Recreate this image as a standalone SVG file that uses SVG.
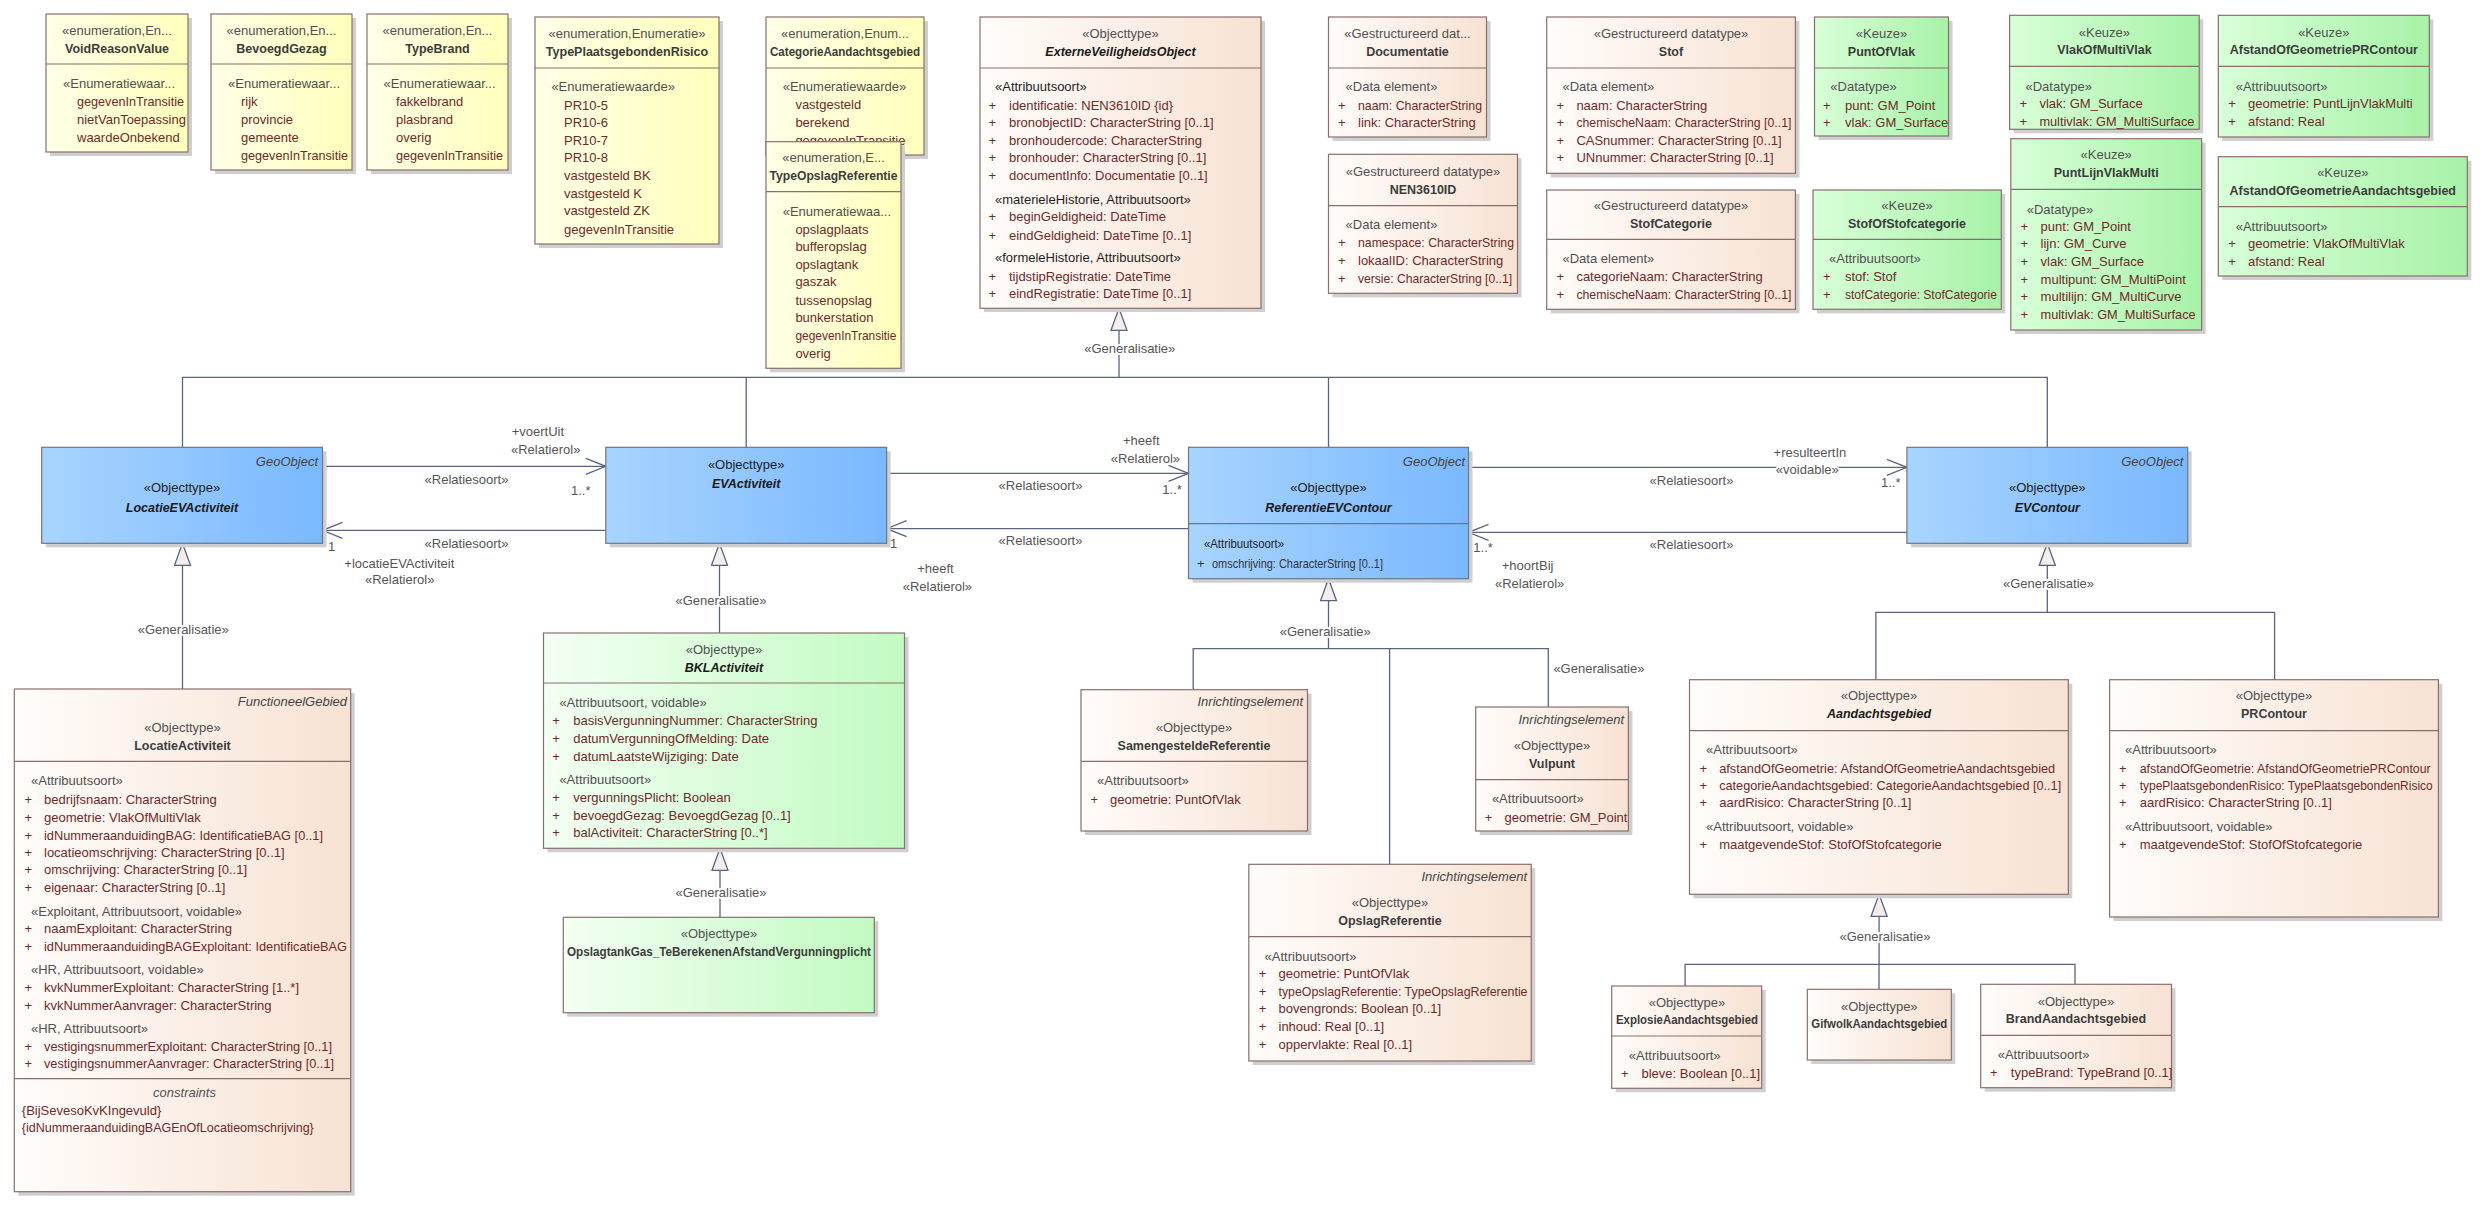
<svg xmlns="http://www.w3.org/2000/svg" width="2488" height="1208" viewBox="0 0 2488 1208">
<defs>
<linearGradient id="gy" x1="0" x2="1" y1="0" y2="0"><stop offset="0" stop-color="#FFFFE8"/><stop offset="1" stop-color="#FFFFBC"/></linearGradient>
<linearGradient id="gb" x1="0" x2="1" y1="0" y2="0"><stop offset="0" stop-color="#FFFCFA"/><stop offset="1" stop-color="#F7E2D3"/></linearGradient>
<linearGradient id="gg" x1="0" x2="1" y1="0" y2="0"><stop offset="0" stop-color="#D8FFD8"/><stop offset="1" stop-color="#A8F2A8"/></linearGradient>
<linearGradient id="gl" x1="0" x2="1" y1="0" y2="0"><stop offset="0" stop-color="#F3FFF3"/><stop offset="1" stop-color="#C2FAC2"/></linearGradient>
<linearGradient id="gbl" x1="0" x2="1" y1="0" y2="0"><stop offset="0" stop-color="#A8D4FF"/><stop offset="1" stop-color="#7AB8FF"/></linearGradient>
<marker id="arr" viewBox="0 0 22 18" refX="21" refY="9" markerWidth="22" markerHeight="18" markerUnits="userSpaceOnUse" orient="auto"><path d="M1,1 L21,9 L1,17" fill="none" stroke="#5a6383" stroke-width="1.3"/></marker>
<marker id="tri" viewBox="0 0 24 18" refX="23" refY="9" markerWidth="24" markerHeight="18" markerUnits="userSpaceOnUse" orient="auto"><path d="M1,1 L23,9 L1,17 Z" fill="#f4edeb" stroke="#5a6383" stroke-width="1.3"/></marker>
</defs>
<style>
text{font-family:"Liberation Sans",Arial,sans-serif;font-size:13px}
.sh{fill:#cfcfcf}
.bx{stroke:#8a6e6e;stroke-width:1.2}
.y{fill:url(#gy)}.b{fill:url(#gb)}.g{fill:url(#gg)}.gl{fill:url(#gl)}.bl{fill:url(#gbl);stroke:#6f7680}
.dv{stroke:#8a6e6e;stroke-width:1.2}
.s{fill:#505050}
.k{fill:#1e1e1e}
.n{font-weight:bold;font-size:12.5px;fill:#3c3c3c}
.ni{font-weight:bold;font-style:italic;font-size:12.5px;fill:#1a1a1a}
.a{fill:#6e2a2a}
.m{text-anchor:middle}
.e{text-anchor:end;font-style:italic;fill:#444}
.cn{fill:none;stroke:#5a6383;stroke-width:1.3}
.l{fill:#555;paint-order:stroke;stroke:#fff;stroke-width:4px;stroke-linejoin:round}
.lm{text-anchor:middle}
</style>
<rect width="2488" height="1208" fill="#fff"/>

<g id="connectors">
<polyline class="cn" points="182.5,447.3 182.5,377.3 2047.3,377.3 2047.3,447.3"/>
<line class="cn" x1="746.2" y1="377.3" x2="746.2" y2="447.3"/>
<line class="cn" x1="1328.5" y1="377.3" x2="1328.5" y2="447.3"/>
<path class="cn" d="M1119,377.3 V308.3" marker-end="url(#tri)"/>
<text class="l lm" x="1129.8" y="352.5">«Generalisatie»</text>

<path class="cn" d="M182.5,689 V543.3" marker-end="url(#tri)"/>
<text class="l lm" x="183.3" y="634">«Generalisatie»</text>
<path class="cn" d="M719.5,633 V543.3" marker-end="url(#tri)"/>
<text class="l lm" x="721" y="605">«Generalisatie»</text>
<path class="cn" d="M720,917.3 V848.3" marker-end="url(#tri)"/>
<text class="l lm" x="721" y="897">«Generalisatie»</text>

<polyline class="cn" points="1193.2,689.7 1193.2,648.7 1548.3,648.7 1548.3,707"/>
<line class="cn" x1="1389.6" y1="648.7" x2="1389.6" y2="864.3"/>
<path class="cn" d="M1328.5,648.7 V578.7" marker-end="url(#tri)"/>
<text class="l lm" x="1325.3" y="636">«Generalisatie»</text>
<text class="l" x="1553.4" y="673">«Generalisatie»</text>

<polyline class="cn" points="1875.9,679.7 1875.9,612.3 2274.6,612.3 2274.6,679.7"/>
<path class="cn" d="M2047.3,612.3 V543.3" marker-end="url(#tri)"/>
<text class="l lm" x="2048.5" y="587.5">«Generalisatie»</text>

<polyline class="cn" points="1685.1,986 1685.1,964.3 2075,964.3 2075,984.3"/>
<line class="cn" x1="1879" y1="964.3" x2="1879" y2="989.3"/>
<path class="cn" d="M1879.1,964.3 V894.3" marker-end="url(#tri)"/>
<text class="l lm" x="1885" y="941">«Generalisatie»</text>

<path class="cn" d="M322.5,466.3 H605.8" marker-end="url(#arr)"/>
<text class="l" x="511.7" y="436">+voertUit</text>
<text class="l" x="511" y="453.5">«Relatierol»</text>
<text class="l lm" x="466.5" y="483.5">«Relatiesoort»</text>
<text class="l" x="571" y="495">1..*</text>
<path class="cn" d="M605.8,530.3 H322.5" marker-end="url(#arr)"/>
<text class="l" x="328" y="551">1</text>
<text class="l lm" x="466.5" y="547.5">«Relatiesoort»</text>
<text class="l" x="344.3" y="567.5">+locatieEVActiviteit</text>
<text class="l" x="365" y="584">«Relatierol»</text>

<path class="cn" d="M886.6,473.3 H1188.5" marker-end="url(#arr)"/>
<text class="l" x="1123" y="445">+heeft</text>
<text class="l" x="1110.7" y="463">«Relatierol»</text>
<text class="l lm" x="1040.5" y="490">«Relatiesoort»</text>
<text class="l" x="1162.3" y="493.5">1..*</text>
<path class="cn" d="M1188.5,528.7 H886.6" marker-end="url(#arr)"/>
<text class="l" x="890" y="547.5">1</text>
<text class="l lm" x="1040.5" y="544.5">«Relatiesoort»</text>
<text class="l lm" x="935.4" y="573">+heeft</text>
<text class="l lm" x="937.4" y="591">«Relatierol»</text>

<path class="cn" d="M1468.5,467.3 H1906.9" marker-end="url(#arr)"/>
<text class="l" x="1773.6" y="456.5">+resulteertIn</text>
<text class="l lm" x="1807.3" y="474">«voidable»</text>
<text class="l lm" x="1691.5" y="485">«Relatiesoort»</text>
<text class="l" x="1881" y="486.5">1..*</text>
<path class="cn" d="M1906.9,532.3 H1468.5" marker-end="url(#arr)"/>
<text class="l" x="1473.3" y="551.5">1..*</text>
<text class="l lm" x="1691.5" y="549">«Relatiesoort»</text>
<text class="l lm" x="1527.6" y="569.5">+hoortBij</text>
<text class="l lm" x="1529.6" y="587.5">«Relatierol»</text>
</g>

<g id="VoidReasonValue">
<rect class="sh" x="50" y="18" width="142" height="138"/>
<rect class="bx y" x="46" y="14" width="142" height="138"/>
<line class="dv" x1="46" y1="64" x2="188" y2="64"/>
<text class="s m" x="117" y="35">«enumeration,En...</text>
<text class="n m" x="117" y="53">VoidReasonValue</text>
<text class="s" x="63" y="88">«Enumeratiewaar...</text>
<text class="a" x="77" y="106" textLength="107" lengthAdjust="spacingAndGlyphs">gegevenInTransitie</text>
<text class="a" x="77" y="124">nietVanToepassing</text>
<text class="a" x="77" y="142">waardeOnbekend</text>
</g>

<g id="BevoegdGezag">
<rect class="sh" x="215" y="18" width="141" height="156"/>
<rect class="bx y" x="211" y="14" width="141" height="156"/>
<line class="dv" x1="211" y1="64" x2="352" y2="64"/>
<text class="s m" x="281.5" y="35">«enumeration,En...</text>
<text class="n m" x="281.5" y="53">BevoegdGezag</text>
<text class="s" x="228" y="88">«Enumeratiewaar...</text>
<text class="a" x="241" y="106">rijk</text>
<text class="a" x="241" y="124">provincie</text>
<text class="a" x="241" y="142">gemeente</text>
<text class="a" x="241" y="160" textLength="107" lengthAdjust="spacingAndGlyphs">gegevenInTransitie</text>
</g>

<g id="TypeBrand">
<rect class="sh" x="371" y="18" width="141" height="156"/>
<rect class="bx y" x="367" y="14" width="141" height="156"/>
<line class="dv" x1="367" y1="64" x2="508" y2="64"/>
<text class="s m" x="437.5" y="35">«enumeration,En...</text>
<text class="n m" x="437.5" y="53">TypeBrand</text>
<text class="s" x="383.6" y="88">«Enumeratiewaar...</text>
<text class="a" x="396" y="106">fakkelbrand</text>
<text class="a" x="396" y="124">plasbrand</text>
<text class="a" x="396" y="142">overig</text>
<text class="a" x="396" y="160" textLength="107" lengthAdjust="spacingAndGlyphs">gegevenInTransitie</text>
</g>

<g id="TypePlaatsgebondenRisico">
<rect class="sh" x="539" y="21" width="184" height="227"/>
<rect class="bx y" x="535" y="17" width="184" height="227"/>
<line class="dv" x1="535" y1="68" x2="719" y2="68"/>
<text class="s m" x="627" y="38">«enumeration,Enumeratie»</text>
<text class="n m" x="627" y="56">TypePlaatsgebondenRisico</text>
<text class="s" x="551.4" y="91">«Enumeratiewaarde»</text>
<text class="a" x="564" y="109.5">PR10-5</text>
<text class="a" x="564" y="127">PR10-6</text>
<text class="a" x="564" y="144.5">PR10-7</text>
<text class="a" x="564" y="162">PR10-8</text>
<text class="a" x="564" y="180">vastgesteld BK</text>
<text class="a" x="564" y="197.8">vastgesteld K</text>
<text class="a" x="564" y="215.3">vastgesteld ZK</text>
<text class="a" x="564" y="233.5">gegevenInTransitie</text>
</g>

<g id="CategorieAandachtsgebied">
<rect class="sh" x="770" y="21" width="158" height="138"/>
<rect class="bx y" x="766" y="17" width="158" height="138"/>
<line class="dv" x1="766" y1="68" x2="924" y2="68"/>
<text class="s m" x="845" y="38">«enumeration,Enum...</text>
<text class="n m" x="845" y="56" textLength="150" lengthAdjust="spacingAndGlyphs">CategorieAandachtsgebied</text>
<text class="s" x="782.7" y="91">«Enumeratiewaarde»</text>
<text class="a" x="795.4" y="108.8">vastgesteld</text>
<text class="a" x="795.4" y="126.5">berekend</text>
<text class="a" x="795.4" y="144.5">gegevenInTransitie</text>
</g>

<g id="TypeOpslagReferentie">
<rect class="sh" x="770" y="145.7" width="135" height="226.6"/>
<rect class="bx y" x="766" y="141.7" width="135" height="226.6"/>
<line class="dv" x1="766" y1="191.7" x2="901" y2="191.7"/>
<text class="s m" x="833.5" y="162">«enumeration,E...</text>
<text class="n m" x="833.5" y="180" textLength="128" lengthAdjust="spacingAndGlyphs">TypeOpslagReferentie</text>
<text class="s" x="782.7" y="215.5">«Enumeratiewaa...</text>
<text class="a" x="795.4" y="233.5">opslagplaats</text>
<text class="a" x="795.4" y="251">bufferopslag</text>
<text class="a" x="795.4" y="268.8">opslagtank</text>
<text class="a" x="795.4" y="286">gaszak</text>
<text class="a" x="795.4" y="304.5">tussenopslag</text>
<text class="a" x="795.4" y="322">bunkerstation</text>
<text class="a" x="795.4" y="340" textLength="101" lengthAdjust="spacingAndGlyphs">gegevenInTransitie</text>
<text class="a" x="795.4" y="357.8">overig</text>
</g>

<g id="ExterneVeiligheidsObject">
<rect class="sh" x="984" y="21" width="281" height="291"/>
<rect class="bx b" x="980" y="17" width="281" height="291.3"/>
<line class="dv" x1="980" y1="68" x2="1261" y2="68"/>
<text class="s m" x="1120.5" y="38">«Objecttype»</text>
<text class="ni m" x="1120.5" y="56">ExterneVeiligheidsObject</text>
<text class="k" x="995" y="91">«Attribuutsoort»</text>
<text class="a" x="988.5" y="109.5">+</text><text class="a" x="1009" y="109.5">identificatie: NEN3610ID {id}</text>
<text class="a" x="988.5" y="127">+</text><text class="a" x="1009" y="127">bronobjectID: CharacterString [0..1]</text>
<text class="a" x="988.5" y="144.5">+</text><text class="a" x="1009" y="144.5">bronhoudercode: CharacterString</text>
<text class="a" x="988.5" y="162">+</text><text class="a" x="1009" y="162">bronhouder: CharacterString [0..1]</text>
<text class="a" x="988.5" y="180">+</text><text class="a" x="1009" y="180">documentInfo: Documentatie [0..1]</text>
<text class="k" x="995" y="203.5">«materieleHistorie, Attribuutsoort»</text>
<text class="a" x="988.5" y="221">+</text><text class="a" x="1009" y="221">beginGeldigheid: DateTime</text>
<text class="a" x="988.5" y="239.5">+</text><text class="a" x="1009" y="239.5">eindGeldigheid: DateTime [0..1]</text>
<text class="k" x="995" y="262">«formeleHistorie, Attribuutsoort»</text>
<text class="a" x="988.5" y="280.5">+</text><text class="a" x="1009" y="280.5">tijdstipRegistratie: DateTime</text>
<text class="a" x="988.5" y="297.8">+</text><text class="a" x="1009" y="297.8">eindRegistratie: DateTime [0..1]</text>
</g>

<g id="Documentatie">
<rect class="sh" x="1332.5" y="21" width="158" height="120"/>
<rect class="bx b" x="1328.5" y="17" width="158" height="120"/>
<line class="dv" x1="1328.5" y1="68" x2="1486.5" y2="68"/>
<text class="s m" x="1407.5" y="38">«Gestructureerd dat...</text>
<text class="n m" x="1407.5" y="56">Documentatie</text>
<text class="s" x="1345.6" y="91">«Data element»</text>
<text class="a" x="1338" y="109.5">+</text><text class="a" x="1358" y="109.5" textLength="124" lengthAdjust="spacingAndGlyphs">naam: CharacterString</text>
<text class="a" x="1338" y="127">+</text><text class="a" x="1358" y="127">link: CharacterString</text>
</g>

<g id="NEN3610ID">
<rect class="sh" x="1332.5" y="158.3" width="189" height="139"/>
<rect class="bx b" x="1328.5" y="154.3" width="189" height="139"/>
<line class="dv" x1="1328.5" y1="205.7" x2="1517.5" y2="205.7"/>
<text class="s m" x="1423" y="176">«Gestructureerd datatype»</text>
<text class="n m" x="1423" y="194">NEN3610ID</text>
<text class="s" x="1345.6" y="229">«Data element»</text>
<text class="a" x="1338" y="247">+</text><text class="a" x="1358" y="247" textLength="156" lengthAdjust="spacingAndGlyphs">namespace: CharacterString</text>
<text class="a" x="1338" y="265">+</text><text class="a" x="1358" y="265">lokaalID: CharacterString</text>
<text class="a" x="1338" y="282.5">+</text><text class="a" x="1358" y="282.5" textLength="154" lengthAdjust="spacingAndGlyphs">versie: CharacterString [0..1]</text>
</g>

<g id="Stof">
<rect class="sh" x="1550.7" y="21" width="248.7" height="156.6"/>
<rect class="bx b" x="1546.7" y="17" width="248.7" height="156.3"/>
<line class="dv" x1="1546.7" y1="68" x2="1795.4" y2="68"/>
<text class="s m" x="1671" y="38">«Gestructureerd datatype»</text>
<text class="n m" x="1671" y="56">Stof</text>
<text class="s" x="1562.5" y="91">«Data element»</text>
<text class="a" x="1556.6" y="109.5">+</text><text class="a" x="1576.4" y="109.5">naam: CharacterString</text>
<text class="a" x="1556.6" y="127">+</text><text class="a" x="1576.4" y="127" textLength="215" lengthAdjust="spacingAndGlyphs">chemischeNaam: CharacterString [0..1]</text>
<text class="a" x="1556.6" y="144.5">+</text><text class="a" x="1576.4" y="144.5">CASnummer: CharacterString [0..1]</text>
<text class="a" x="1556.6" y="162">+</text><text class="a" x="1576.4" y="162">UNnummer: CharacterString [0..1]</text>
</g>

<g id="StofCategorie">
<rect class="sh" x="1550.7" y="194" width="248.7" height="119.3"/>
<rect class="bx b" x="1546.7" y="190" width="248.7" height="119.3"/>
<line class="dv" x1="1546.7" y1="239.3" x2="1795.4" y2="239.3"/>
<text class="s m" x="1671" y="210">«Gestructureerd datatype»</text>
<text class="n m" x="1671" y="228">StofCategorie</text>
<text class="s" x="1562.5" y="263">«Data element»</text>
<text class="a" x="1556.6" y="281">+</text><text class="a" x="1576.4" y="281">categorieNaam: CharacterString</text>
<text class="a" x="1556.6" y="299">+</text><text class="a" x="1576.4" y="299" textLength="215" lengthAdjust="spacingAndGlyphs">chemischeNaam: CharacterString [0..1]</text>
</g>

<g id="PuntOfVlak">
<rect class="sh" x="1818.5" y="21" width="134" height="119"/>
<rect class="bx g" x="1814.5" y="17" width="134" height="119"/>
<line class="dv" x1="1814.5" y1="68" x2="1948.5" y2="68"/>
<text class="s m" x="1881.5" y="38">«Keuze»</text>
<text class="n m" x="1881.5" y="56">PuntOfVlak</text>
<text class="s" x="1830.3" y="91">«Datatype»</text>
<text class="a" x="1823" y="109.5">+</text><text class="a" x="1845" y="109.5">punt: GM_Point</text>
<text class="a" x="1823" y="127">+</text><text class="a" x="1845" y="127">vlak: GM_Surface</text>
</g>

<g id="StofOfStofcategorie">
<rect class="sh" x="1817" y="194" width="188.3" height="119.3"/>
<rect class="bx g" x="1813" y="190" width="188.3" height="119.3"/>
<line class="dv" x1="1813" y1="239.3" x2="2001.3" y2="239.3"/>
<text class="s m" x="1907" y="210">«Keuze»</text>
<text class="n m" x="1907" y="228">StofOfStofcategorie</text>
<text class="s" x="1829" y="263">«Attribuutsoort»</text>
<text class="a" x="1823" y="281">+</text><text class="a" x="1845" y="281">stof: Stof</text>
<text class="a" x="1823" y="299">+</text><text class="a" x="1845" y="299" textLength="152" lengthAdjust="spacingAndGlyphs">stofCategorie: StofCategorie</text>
</g>

<g id="VlakOfMultiVlak">
<rect class="sh" x="2013.6" y="19.3" width="189.6" height="114"/>
<rect class="bx g" x="2009.6" y="15.3" width="189.6" height="114"/>
<line class="dv" x1="2009.6" y1="66.3" x2="2199.2" y2="66.3"/>
<text class="s m" x="2104.4" y="36.5">«Keuze»</text>
<text class="n m" x="2104.4" y="54">VlakOfMultiVlak</text>
<text class="s" x="2025.5" y="90.5">«Datatype»</text>
<text class="a" x="2019.5" y="108">+</text><text class="a" x="2039.4" y="108">vlak: GM_Surface</text>
<text class="a" x="2019.5" y="125.5">+</text><text class="a" x="2039.4" y="125.5" textLength="155" lengthAdjust="spacingAndGlyphs">multivlak: GM_MultiSurface</text>
</g>

<g id="PuntLijnVlakMulti">
<rect class="sh" x="2014.8" y="142.7" width="190.8" height="191.3"/>
<rect class="bx g" x="2010.8" y="138.7" width="190.8" height="191.3"/>
<line class="dv" x1="2010.8" y1="189.3" x2="2201.6" y2="189.3"/>
<text class="s m" x="2106.2" y="159">«Keuze»</text>
<text class="n m" x="2106.2" y="177">PuntLijnVlakMulti</text>
<text class="s" x="2026.7" y="213.5">«Datatype»</text>
<text class="a" x="2020.5" y="230.5">+</text><text class="a" x="2040.6" y="230.5">punt: GM_Point</text>
<text class="a" x="2020.5" y="248">+</text><text class="a" x="2040.6" y="248">lijn: GM_Curve</text>
<text class="a" x="2020.5" y="266">+</text><text class="a" x="2040.6" y="266">vlak: GM_Surface</text>
<text class="a" x="2020.5" y="283.8">+</text><text class="a" x="2040.6" y="283.8">multipunt: GM_MultiPoint</text>
<text class="a" x="2020.5" y="301">+</text><text class="a" x="2040.6" y="301">multilijn: GM_MultiCurve</text>
<text class="a" x="2020.5" y="318.8">+</text><text class="a" x="2040.6" y="318.8" textLength="155" lengthAdjust="spacingAndGlyphs">multivlak: GM_MultiSurface</text>
</g>

<g id="AfstandOfGeometriePRContour">
<rect class="sh" x="2222.3" y="19.3" width="211" height="121.7"/>
<rect class="bx g" x="2218.3" y="15.3" width="211" height="121.7"/>
<line class="dv" x1="2218.3" y1="66.3" x2="2429.3" y2="66.3"/>
<text class="s m" x="2323.8" y="36.5">«Keuze»</text>
<text class="n m" x="2323.8" y="54">AfstandOfGeometriePRContour</text>
<text class="s" x="2235.7" y="90.5">«Attribuutsoort»</text>
<text class="a" x="2228.2" y="108">+</text><text class="a" x="2248" y="108">geometrie: PuntLijnVlakMulti</text>
<text class="a" x="2228.2" y="125.5">+</text><text class="a" x="2248" y="125.5">afstand: Real</text>
</g>

<g id="AfstandOfGeometrieAandachtsgebied">
<rect class="sh" x="2222.3" y="160.7" width="249" height="119.3"/>
<rect class="bx g" x="2218.3" y="156.7" width="249" height="119.3"/>
<line class="dv" x1="2218.3" y1="206.7" x2="2467.3" y2="206.7"/>
<text class="s m" x="2342.8" y="177">«Keuze»</text>
<text class="n m" x="2342.8" y="195">AfstandOfGeometrieAandachtsgebied</text>
<text class="s" x="2235.7" y="230.5">«Attribuutsoort»</text>
<text class="a" x="2228.2" y="248">+</text><text class="a" x="2248" y="248">geometrie: VlakOfMultiVlak</text>
<text class="a" x="2228.2" y="266">+</text><text class="a" x="2248" y="266">afstand: Real</text>
</g>

<g id="LocatieEVActiviteit">
<rect class="sh" x="45.7" y="451.3" width="280.8" height="96"/>
<rect class="bx bl" x="41.7" y="447.3" width="280.8" height="96"/>
<text class="e" x="318" y="465.5" fill="#222">GeoObject</text>
<text class="k m" x="182" y="492">«Objecttype»</text>
<text class="ni m" x="182" y="512">LocatieEVActiviteit</text>
</g>

<g id="EVActiviteit">
<rect class="sh" x="609.8" y="451.3" width="280.8" height="96"/>
<rect class="bx bl" x="605.8" y="447.3" width="280.8" height="96"/>
<text class="k m" x="746.2" y="469">«Objecttype»</text>
<text class="ni m" x="746.2" y="487.5">EVActiviteit</text>
</g>

<g id="ReferentieEVContour">
<rect class="sh" x="1192.5" y="451.3" width="280" height="131.4"/>
<rect class="bx bl" x="1188.5" y="447.3" width="280" height="131.4"/>
<line x1="1188.5" y1="523.7" x2="1468.5" y2="523.7" stroke="#6f7680" stroke-width="1.2"/>
<text class="e" x="1465" y="465.5">GeoObject</text>
<text class="k m" x="1328.5" y="492">«Objecttype»</text>
<text class="ni m" x="1328.5" y="512">ReferentieEVContour</text>
<text class="k" x="1204" y="548" textLength="80" lengthAdjust="spacingAndGlyphs">«Attribuutsoort»</text>
<text fill="#333" x="1197" y="568">+</text><text fill="#333" x="1212" y="568" textLength="171" lengthAdjust="spacingAndGlyphs">omschrijving: CharacterString [0..1]</text>
</g>

<g id="EVContour">
<rect class="sh" x="1910.9" y="451.3" width="280.8" height="96"/>
<rect class="bx bl" x="1906.9" y="447.3" width="280.8" height="96"/>
<text class="e" x="2183.4" y="465.5">GeoObject</text>
<text class="k m" x="2047.3" y="492">«Objecttype»</text>
<text class="ni m" x="2047.3" y="512">EVContour</text>
</g>

<g id="LocatieActiviteit">
<rect class="sh" x="18.3" y="693" width="336.4" height="502.7"/>
<rect class="bx b" x="14.3" y="689" width="336.4" height="502.7"/>
<line class="dv" x1="14.3" y1="761.3" x2="350.7" y2="761.3"/>
<line class="dv" x1="14.3" y1="1078.7" x2="350.7" y2="1078.7"/>
<text class="e" x="347" y="706">FunctioneelGebied</text>
<text class="s m" x="182.5" y="732">«Objecttype»</text>
<text class="n m" x="182.5" y="750">LocatieActiviteit</text>
<text class="s" x="31" y="785">«Attribuutsoort»</text>
<text class="a" x="24.6" y="803.5">+</text><text class="a" x="44" y="803.5">bedrijfsnaam: CharacterString</text>
<text class="a" x="24.6" y="821.5">+</text><text class="a" x="44" y="821.5">geometrie: VlakOfMultiVlak</text>
<text class="a" x="24.6" y="839.5">+</text><text class="a" x="44" y="839.5" textLength="279" lengthAdjust="spacingAndGlyphs">idNummeraanduidingBAG: IdentificatieBAG [0..1]</text>
<text class="a" x="24.6" y="856.5">+</text><text class="a" x="44" y="856.5">locatieomschrijving: CharacterString [0..1]</text>
<text class="a" x="24.6" y="874">+</text><text class="a" x="44" y="874">omschrijving: CharacterString [0..1]</text>
<text class="a" x="24.6" y="892">+</text><text class="a" x="44" y="892">eigenaar: CharacterString [0..1]</text>
<text class="s" x="31" y="915.5">«Exploitant, Attribuutsoort, voidable»</text>
<text class="a" x="24.6" y="933">+</text><text class="a" x="44" y="933">naamExploitant: CharacterString</text>
<text class="a" x="24.6" y="951">+</text><text class="a" x="44" y="951" textLength="303" lengthAdjust="spacingAndGlyphs">idNummeraanduidingBAGExploitant: IdentificatieBAG</text>
<text class="s" x="31" y="974">«HR, Attribuutsoort, voidable»</text>
<text class="a" x="24.6" y="992">+</text><text class="a" x="44" y="992">kvkNummerExploitant: CharacterString [1..*]</text>
<text class="a" x="24.6" y="1009.5">+</text><text class="a" x="44" y="1009.5">kvkNummerAanvrager: CharacterString</text>
<text class="s" x="31" y="1033">«HR, Attribuutsoort»</text>
<text class="a" x="24.6" y="1050.5">+</text><text class="a" x="44" y="1050.5" textLength="288" lengthAdjust="spacingAndGlyphs">vestigingsnummerExploitant: CharacterString [0..1]</text>
<text class="a" x="24.6" y="1068">+</text><text class="a" x="44" y="1068" textLength="290" lengthAdjust="spacingAndGlyphs">vestigingsnummerAanvrager: CharacterString [0..1]</text>
<text class="s m" x="184.5" y="1097" font-style="italic">constraints</text>
<text class="a" x="21.8" y="1114.5">{BijSevesoKvKIngevuld}</text>
<text class="a" x="21.8" y="1132" textLength="292" lengthAdjust="spacingAndGlyphs">{idNummeraanduidingBAGEnOfLocatieomschrijving}</text>
</g>

<g id="BKLActiviteit">
<rect class="sh" x="547.5" y="637" width="361" height="215.3"/>
<rect class="bx gl" x="543.5" y="633" width="361" height="215.3"/>
<line class="dv" x1="543.5" y1="683" x2="904.5" y2="683"/>
<text class="s m" x="724" y="654">«Objecttype»</text>
<text class="ni m" x="724" y="672">BKLActiviteit</text>
<text class="s" x="559.4" y="706.5">«Attribuutsoort, voidable»</text>
<text class="a" x="552.2" y="724.5">+</text><text class="a" x="573.2" y="724.5">basisVergunningNummer: CharacterString</text>
<text class="a" x="552.2" y="743">+</text><text class="a" x="573.2" y="743">datumVergunningOfMelding: Date</text>
<text class="a" x="552.2" y="760.5">+</text><text class="a" x="573.2" y="760.5">datumLaatsteWijziging: Date</text>
<text class="s" x="559.4" y="784">«Attribuutsoort»</text>
<text class="a" x="552.2" y="802">+</text><text class="a" x="573.2" y="802">vergunningsPlicht: Boolean</text>
<text class="a" x="552.2" y="819.5">+</text><text class="a" x="573.2" y="819.5">bevoegdGezag: BevoegdGezag [0..1]</text>
<text class="a" x="552.2" y="837">+</text><text class="a" x="573.2" y="837">balActiviteit: CharacterString [0..*]</text>
</g>

<g id="OpslagtankGas_TeBerekenenAfstandVergunningplicht">
<rect class="sh" x="567.3" y="921.3" width="311" height="95.4"/>
<rect class="bx gl" x="563.3" y="917.3" width="311" height="95.4"/>
<text class="s m" x="719" y="938">«Objecttype»</text>
<text class="n m" x="719" y="956" textLength="304" lengthAdjust="spacingAndGlyphs">OpslagtankGas_TeBerekenenAfstandVergunningplicht</text>
</g>

<g id="SamengesteldeReferentie">
<rect class="sh" x="1085" y="693.7" width="226.5" height="141.3"/>
<rect class="bx b" x="1081" y="689.7" width="226.5" height="141.3"/>
<line class="dv" x1="1081" y1="761.3" x2="1307.5" y2="761.3"/>
<text class="e" x="1303" y="706">Inrichtingselement</text>
<text class="s m" x="1194" y="731.5">«Objecttype»</text>
<text class="n m" x="1194" y="750">SamengesteldeReferentie</text>
<text class="s" x="1097" y="785">«Attribuutsoort»</text>
<text class="a" x="1090.5" y="803.5">+</text><text class="a" x="1110" y="803.5">geometrie: PuntOfVlak</text>
</g>

<g id="Vulpunt">
<rect class="sh" x="1479.7" y="711" width="152.7" height="124"/>
<rect class="bx b" x="1475.7" y="707" width="152.7" height="124"/>
<line class="dv" x1="1475.7" y1="779.7" x2="1628.4" y2="779.7"/>
<text class="e" x="1624" y="724">Inrichtingselement</text>
<text class="s m" x="1552" y="749.5">«Objecttype»</text>
<text class="n m" x="1552" y="767.5">Vulpunt</text>
<text class="s" x="1491.9" y="803">«Attribuutsoort»</text>
<text class="a" x="1484.8" y="821.5">+</text><text class="a" x="1504.6" y="821.5">geometrie: GM_Point</text>
</g>

<g id="OpslagReferentie">
<rect class="sh" x="1252.8" y="868.3" width="282.4" height="196.7"/>
<rect class="bx b" x="1248.8" y="864.3" width="282.4" height="196.7"/>
<line class="dv" x1="1248.8" y1="936.7" x2="1531.2" y2="936.7"/>
<text class="e" x="1527" y="881">Inrichtingselement</text>
<text class="s m" x="1390" y="907">«Objecttype»</text>
<text class="n m" x="1390" y="925">OpslagReferentie</text>
<text class="s" x="1264.6" y="960.5">«Attribuutsoort»</text>
<text class="a" x="1258.7" y="978">+</text><text class="a" x="1278.5" y="978">geometrie: PuntOfVlak</text>
<text class="a" x="1258.7" y="996">+</text><text class="a" x="1278.5" y="996" textLength="249" lengthAdjust="spacingAndGlyphs">typeOpslagReferentie: TypeOpslagReferentie</text>
<text class="a" x="1258.7" y="1013">+</text><text class="a" x="1278.5" y="1013">bovengronds: Boolean [0..1]</text>
<text class="a" x="1258.7" y="1031">+</text><text class="a" x="1278.5" y="1031">inhoud: Real [0..1]</text>
<text class="a" x="1258.7" y="1049">+</text><text class="a" x="1278.5" y="1049">oppervlakte: Real [0..1]</text>
</g>

<g id="Aandachtsgebied">
<rect class="sh" x="1693.5" y="683.7" width="378.8" height="214.6"/>
<rect class="bx b" x="1689.5" y="679.7" width="378.8" height="214.6"/>
<line class="dv" x1="1689.5" y1="730.7" x2="2068.3" y2="730.7"/>
<text class="s m" x="1879" y="699.5">«Objecttype»</text>
<text class="ni m" x="1879" y="718">Aandachtsgebied</text>
<text class="s" x="1706" y="754">«Attribuutsoort»</text>
<text class="a" x="1699.4" y="772.5">+</text><text class="a" x="1719.2" y="772.5" textLength="336" lengthAdjust="spacingAndGlyphs">afstandOfGeometrie: AfstandOfGeometrieAandachtsgebied</text>
<text class="a" x="1699.4" y="789.5">+</text><text class="a" x="1719.2" y="789.5" textLength="342" lengthAdjust="spacingAndGlyphs">categorieAandachtsgebied: CategorieAandachtsgebied [0..1]</text>
<text class="a" x="1699.4" y="806.5">+</text><text class="a" x="1719.2" y="806.5">aardRisico: CharacterString [0..1]</text>
<text class="s" x="1706" y="830.5">«Attribuutsoort, voidable»</text>
<text class="a" x="1699.4" y="848.5">+</text><text class="a" x="1719.2" y="848.5">maatgevendeStof: StofOfStofcategorie</text>
</g>

<g id="PRContour">
<rect class="sh" x="2113.6" y="683.7" width="328.8" height="237.3"/>
<rect class="bx b" x="2109.6" y="679.7" width="328.8" height="237.3"/>
<line class="dv" x1="2109.6" y1="730.7" x2="2438.4" y2="730.7"/>
<text class="s m" x="2274" y="699.5">«Objecttype»</text>
<text class="n m" x="2274" y="718">PRContour</text>
<text class="s" x="2125" y="754">«Attribuutsoort»</text>
<text class="a" x="2119" y="772.5">+</text><text class="a" x="2139.7" y="772.5" textLength="291" lengthAdjust="spacingAndGlyphs">afstandOfGeometrie: AfstandOfGeometriePRContour</text>
<text class="a" x="2119" y="789.5">+</text><text class="a" x="2139.7" y="789.5" textLength="293" lengthAdjust="spacingAndGlyphs">typePlaatsgebondenRisico: TypePlaatsgebondenRisico</text>
<text class="a" x="2119" y="806.5">+</text><text class="a" x="2139.7" y="806.5">aardRisico: CharacterString [0..1]</text>
<text class="s" x="2125" y="830.5">«Attribuutsoort, voidable»</text>
<text class="a" x="2119" y="848.5">+</text><text class="a" x="2139.7" y="848.5">maatgevendeStof: StofOfStofcategorie</text>
</g>

<g id="ExplosieAandachtsgebied">
<rect class="sh" x="1615.7" y="990" width="150" height="102.3"/>
<rect class="bx b" x="1611.7" y="986" width="150" height="102.3"/>
<line class="dv" x1="1611.7" y1="1036" x2="1761.7" y2="1036"/>
<text class="s m" x="1687" y="1007">«Objecttype»</text>
<text class="n m" x="1687" y="1024" textLength="142" lengthAdjust="spacingAndGlyphs">ExplosieAandachtsgebied</text>
<text class="s" x="1628.8" y="1060">«Attribuutsoort»</text>
<text class="a" x="1620.9" y="1078">+</text><text class="a" x="1641.5" y="1078">bleve: Boolean [0..1]</text>
</g>

<g id="GifwolkAandachtsgebied">
<rect class="sh" x="1811.3" y="993.3" width="144" height="70.7"/>
<rect class="bx b" x="1807.3" y="989.3" width="144" height="70.7"/>
<text class="s m" x="1879.3" y="1011">«Objecttype»</text>
<text class="n m" x="1879.3" y="1028" textLength="136" lengthAdjust="spacingAndGlyphs">GifwolkAandachtsgebied</text>
</g>

<g id="BrandAandachtsgebied">
<rect class="sh" x="1984.7" y="988.3" width="190.8" height="103.4"/>
<rect class="bx b" x="1980.7" y="984.3" width="190.8" height="103.4"/>
<line class="dv" x1="1980.7" y1="1035.3" x2="2171.5" y2="1035.3"/>
<text class="s m" x="2076" y="1005.5">«Objecttype»</text>
<text class="n m" x="2076" y="1023">BrandAandachtsgebied</text>
<text class="s" x="1997.7" y="1058.5">«Attribuutsoort»</text>
<text class="a" x="1990" y="1076.5">+</text><text class="a" x="2010.8" y="1076.5">typeBrand: TypeBrand [0..1]</text>
</g>
</svg>
